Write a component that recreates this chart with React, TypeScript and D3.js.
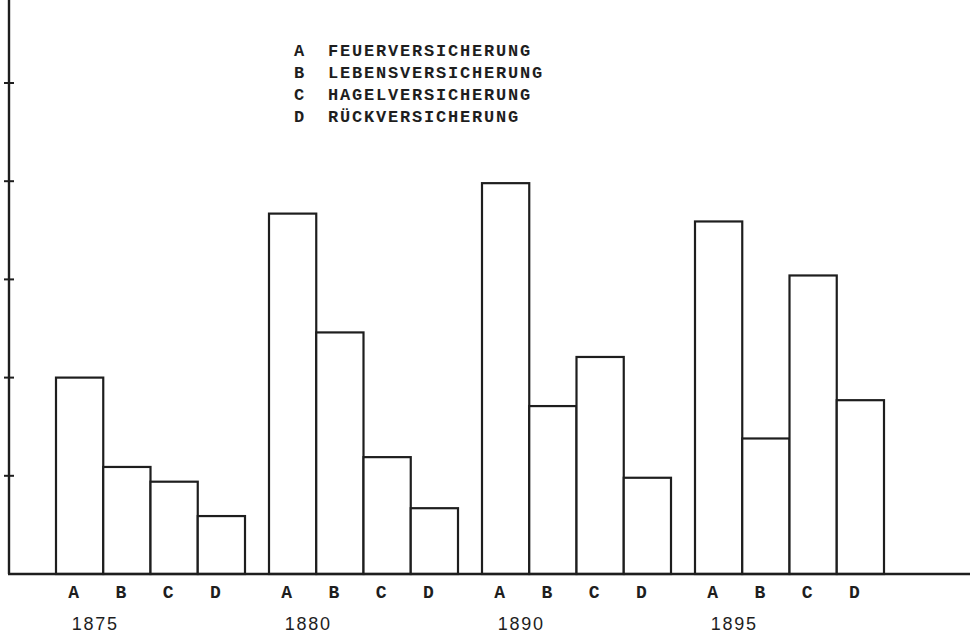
import React from "react";
import * as d3 from "d3";

const years = ["1875", "1880", "1890", "1895"];
const types = ["A", "B", "C", "D"];
const legendLabels = [
  "FEUERVERSICHERUNG",
  "LEBENSVERSICHERUNG",
  "HAGELVERSICHERUNG",
  "RÜCKVERSICHERUNG",
];
const valuesA = [2.0, 3.67, 3.98, 3.59];
const valuesB = [1.09, 2.46, 1.71, 1.38];
const valuesC = [0.94, 1.19, 2.21, 3.04];
const valuesD = [0.59, 0.67, 0.98, 1.77];
const yTicks = [1, 2, 3, 4, 5];

const W = 973;
const H = 636;
const INK = "#1e1e1e";
const MONO = "'Liberation Mono', 'DejaVu Sans Mono', monospace";
const SANS = "'Liberation Sans', Arial, sans-serif";

export default function App() {
  const series = [valuesA, valuesB, valuesC, valuesD];
  const x0 = d3.scaleBand<string>().domain(years).range([56, 884]).paddingInner(24 / 213).paddingOuter(0);
  const x1 = d3.scaleBand<string>().domain(types).range([0, x0.bandwidth()]).padding(0);
  const y = d3.scaleLinear().domain([0, 5]).range([574, 83]);
  const axisX = 9;
  const base = y(0);

  return (
    <svg
      width={W}
      height={H}
      viewBox={`0 0 ${W} ${H}`}
      style={{ position: "absolute", left: 0, top: 0, background: "#fff", display: "block" }}
    >
      <rect x={0} y={0} width={W} height={H} fill="#fff" />
      {years.map((yr, gi) => (
        <g key={yr} transform={`translate(${x0(yr)},0)`}>
          {types.map((t, ti) => {
            const v = series[ti][gi];
            return (
              <rect
                key={t}
                x={x1(t)}
                y={y(v)}
                width={x1.bandwidth()}
                height={base - y(v)}
                fill="#fff"
                stroke={INK}
                strokeWidth={2.2}
              />
            );
          })}
        </g>
      ))}
      <line x1={axisX} y1={0} x2={axisX} y2={base} stroke={INK} strokeWidth={2.4} />
      {yTicks.map((t) => (
        <line key={t} x1={axisX - 5} x2={axisX + 5} y1={y(t)} y2={y(t)} stroke={INK} strokeWidth={2} />
      ))}
      <line x1={axisX - 1} y1={base} x2={970} y2={base} stroke={INK} strokeWidth={2.4} />
      {years.map((yr) =>
        types.map((t) => (
          <text
            key={yr + t}
            x={(x0(yr) as number) + (x1(t) as number) + x1.bandwidth() / 2 - 6}
            y={598}
            textAnchor="middle"
            fontFamily={MONO}
            fontWeight="bold"
            fontSize={18}
            fill={INK}
          >
            {t}
          </text>
        ))
      )}
      {years.map((yr) => (
        <text
          key={yr}
          x={(x0(yr) as number) + x1.bandwidth() / 2 - 8}
          y={630}
          fontFamily={SANS}
          fontSize={18}
          letterSpacing={1.8}
          fill={INK}
        >
          {yr}
        </text>
      ))}
      {types.map((t, i) => (
        <g key={t} transform={`translate(0, ${56 + i * 22})`}>
          <text x={299} y={0} textAnchor="middle" fontFamily={MONO} fontWeight="bold" fontSize={17} fill={INK}>
            {t}
          </text>
          <text x={328} y={0} fontFamily={MONO} fontWeight="bold" fontSize={17} letterSpacing={1.8} fill={INK}>
            {legendLabels[i]}
          </text>
        </g>
      ))}
    </svg>
  );
}
